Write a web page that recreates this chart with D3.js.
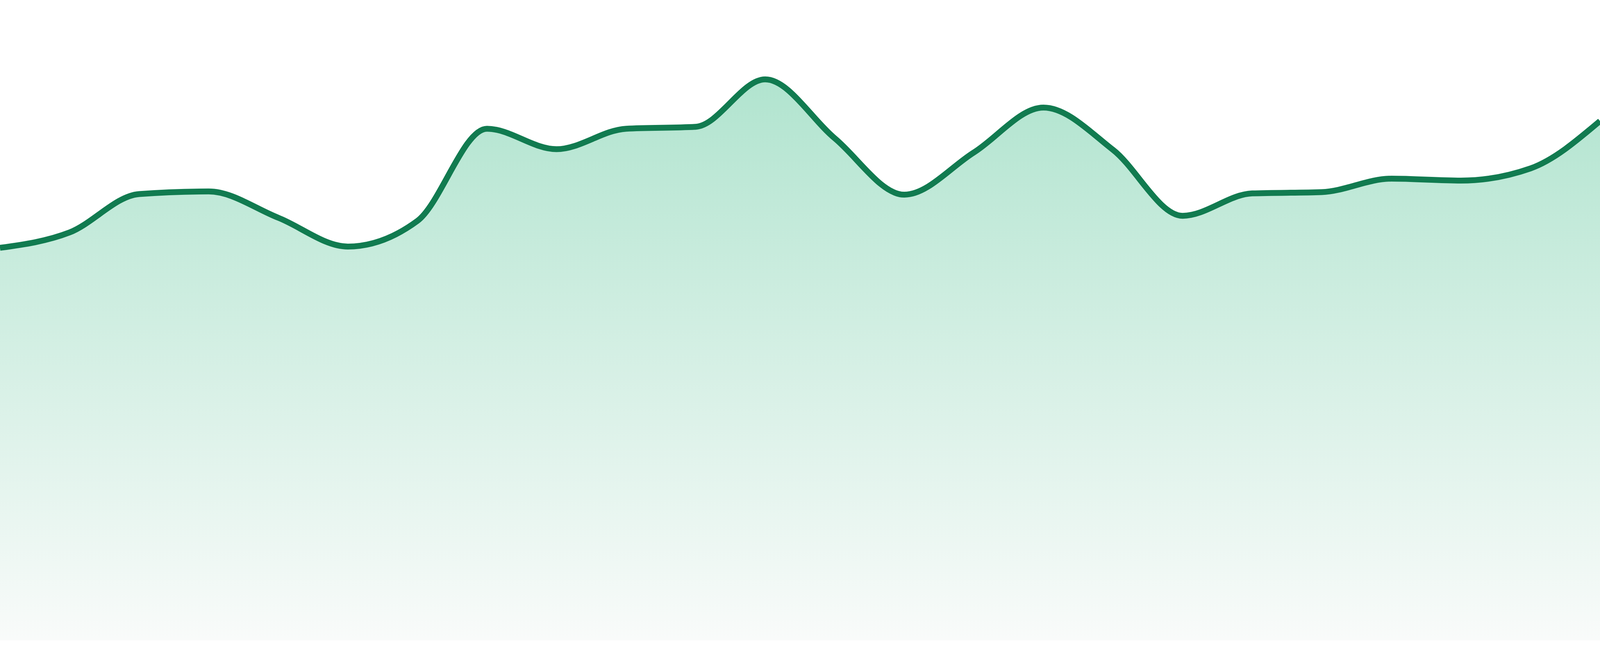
<!DOCTYPE html>
<html>
<head>
<meta charset="utf-8">
<script src="https://cdn.jsdelivr.net/npm/d3@7"></script>
<style>
  html, body { margin: 0; padding: 0; background: #fff; overflow: hidden; }
  svg { display: block; }
</style>
</head>
<body>
<script>
// data: one value per evenly spaced step
const steps = d3.range(24);
const values = [61.3, 63.7, 69.7, 70.1, 66.0, 61.5, 65.5, 79.9, 76.7, 79.9, 80.2, 87.6,
                78.4, 69.6, 76.2, 83.2, 76.6, 66.3, 69.8, 70.0, 72.1, 71.8, 73.7, 81.1];
const yDomain = [0, 100];

function plot() {
    const data = steps.map((s, i) => ({step: s, value: values[i]}));

    // fill the whole window, the area runs edge to edge
    const totalWidth = window.innerWidth || 4800,
        totalHeight = window.innerHeight || 1680;
    const k = totalHeight / 1680;
    const margin = {left: 0, right: 0, top: 0, bottom: 40 * k},
        width = totalWidth - (margin.left + margin.right),
        height = totalHeight - (margin.top + margin.bottom);

    const svg = d3.select('body').append('svg')
        .attr('width', totalWidth)
        .attr('height', totalHeight);

    const g = svg.append('g')
        .attr('transform', 'translate(' + margin.left + ',' + margin.top + ')');

    // scales
    const x = d3.scaleLinear()
        .domain(d3.extent(steps))
        .range([0, width]);
    const y = d3.scaleLinear()
        .domain(yDomain)
        .range([height, 0]);

    // vertical fade for the fill
    const grad = svg.append('defs').append('linearGradient')
        .attr('id', 'fade')
        .attr('gradientUnits', 'userSpaceOnUse')
        .attr('x1', 0).attr('x2', 0)
        .attr('y1', y(d3.max(values)))
        .attr('y2', y(0));
    grad.append('stop').attr('offset', '0%').attr('stop-color', '#b1e4cf');
    grad.append('stop').attr('offset', '100%').attr('stop-color', '#f9fbfa');

    const area = d3.area()
        .curve(d3.curveMonotoneX)
        .x(d => x(d.step))
        .y0(y(0))
        .y1(d => y(d.value));
    const line = d3.line()
        .curve(d3.curveMonotoneX)
        .x(d => x(d.step))
        .y(d => y(d.value));

    g.append('path')
        .datum(data)
        .attr('d', area)
        .attr('fill', 'url(#fade)');

    g.append('path')
        .datum(data)
        .attr('d', line)
        .attr('fill', 'none')
        .attr('stroke', '#117b50')
        .attr('stroke-width', 15 * k)
        .attr('stroke-linejoin', 'round');
}
plot();
</script>
</body>
</html>
